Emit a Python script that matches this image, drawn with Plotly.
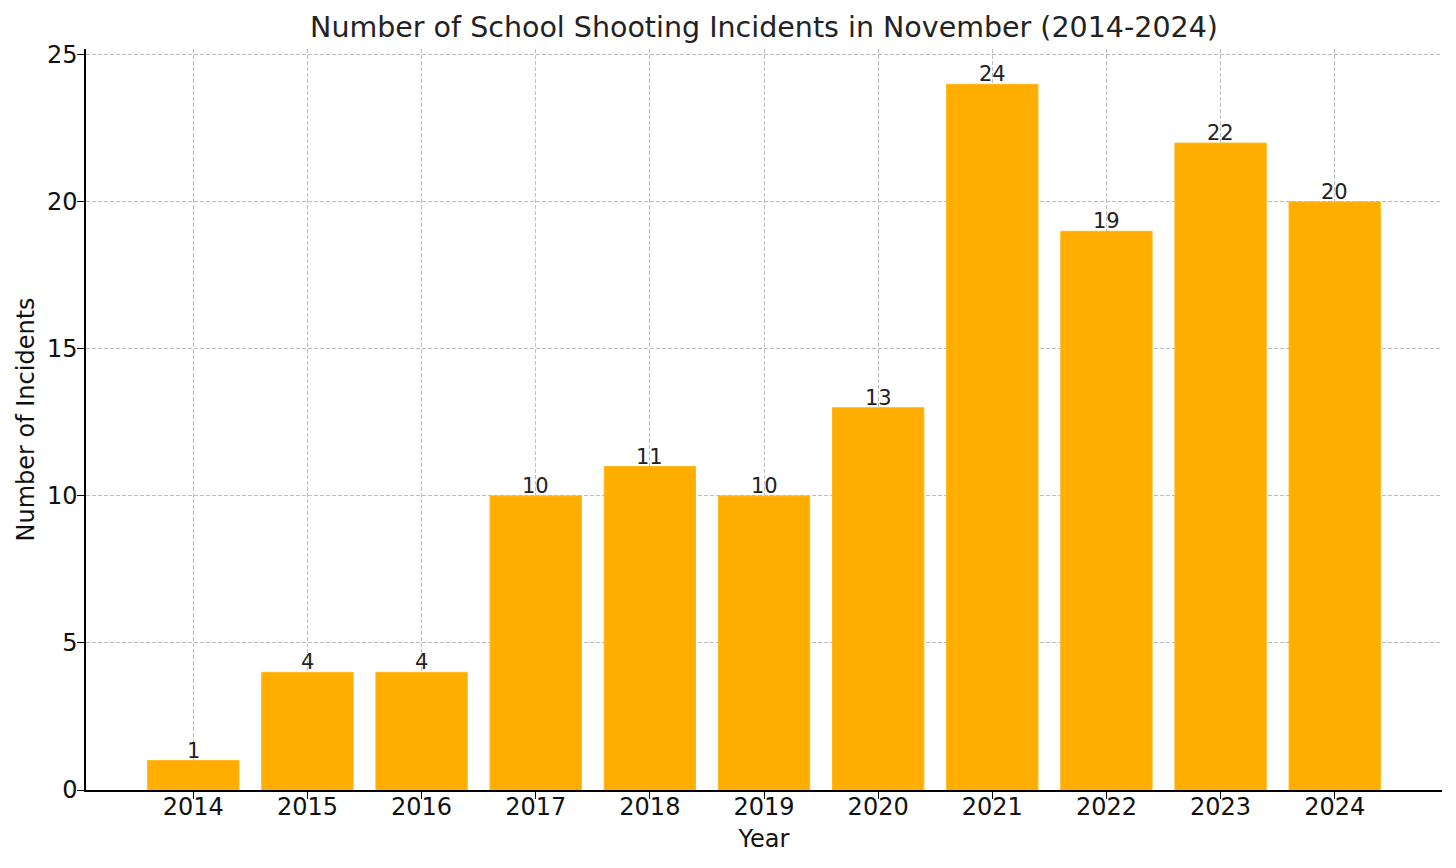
import plotly.graph_objects as go

years = ["2014", "2015", "2016", "2017", "2018", "2019", "2020", "2021", "2022", "2023", "2024"]
incidents = [1, 4, 4, 10, 11, 10, 13, 24, 19, 22, 20]
y_ticks = [0, 5, 10, 15, 20, 25]

FONT = "DejaVu Sans"

fig = go.Figure(go.Bar(
    x=years, y=incidents,
    marker=dict(color="#FFAE00", line=dict(color="#FFB619", width=1)),
    hoverinfo="x+y",
))

# value labels just above each bar (category index positions on the category axis)
for i, v in enumerate(incidents):
    fig.add_annotation(
        x=i, y=v, xref="x", yref="y", text=str(v),
        showarrow=False, yanchor="bottom", yshift=-4,
        font=dict(family=FONT, size=21, color="#222222"),
    )

fig.update_layout(
    width=1456, height=868,
    margin=dict(l=86, r=14, t=49, b=78),
    paper_bgcolor="white", plot_bgcolor="white",
    bargap=0.2,
    showlegend=False,
    font=dict(family=FONT, color="#222222"),
    title=dict(text="Number of School Shooting Incidents in November (2014-2024)",
               x=0.5, xref="paper", xanchor="center", y=0.969, yanchor="middle",
               font=dict(family=FONT, size=28.5, color="#222222")),
)

fig.update_xaxes(
    type="category", range=[-0.94, 10.94],
    showline=True, linecolor="black", linewidth=1.5,
    ticks="outside", ticklen=7, tickcolor="black", tickwidth=1.2,
    tickfont=dict(family=FONT, size=24, color="#111111"),
    ticklabelstandoff=-13,
    showgrid=True, gridcolor="#bdbdbd", griddash="4px,2px", gridwidth=1,
    layer="above traces",
    title=dict(text="Year", font=dict(family=FONT, size=24, color="#111111"), standoff=11),
)
fig.update_yaxes(
    range=[0, 25.2], tickvals=y_ticks,
    showline=True, linecolor="black", linewidth=1.5,
    ticks="outside", ticklen=7, tickcolor="black", tickwidth=1.2,
    tickfont=dict(family=FONT, size=24, color="#111111"),
    ticklabelstandoff=-5,
    showgrid=True, gridcolor="#bdbdbd", griddash="4px,2px", gridwidth=1,
    zeroline=False,
    layer="above traces",
    title=dict(text="Number of Incidents", font=dict(family=FONT, size=24, color="#111111"), standoff=6),
)

fig.write_html("out.html")
